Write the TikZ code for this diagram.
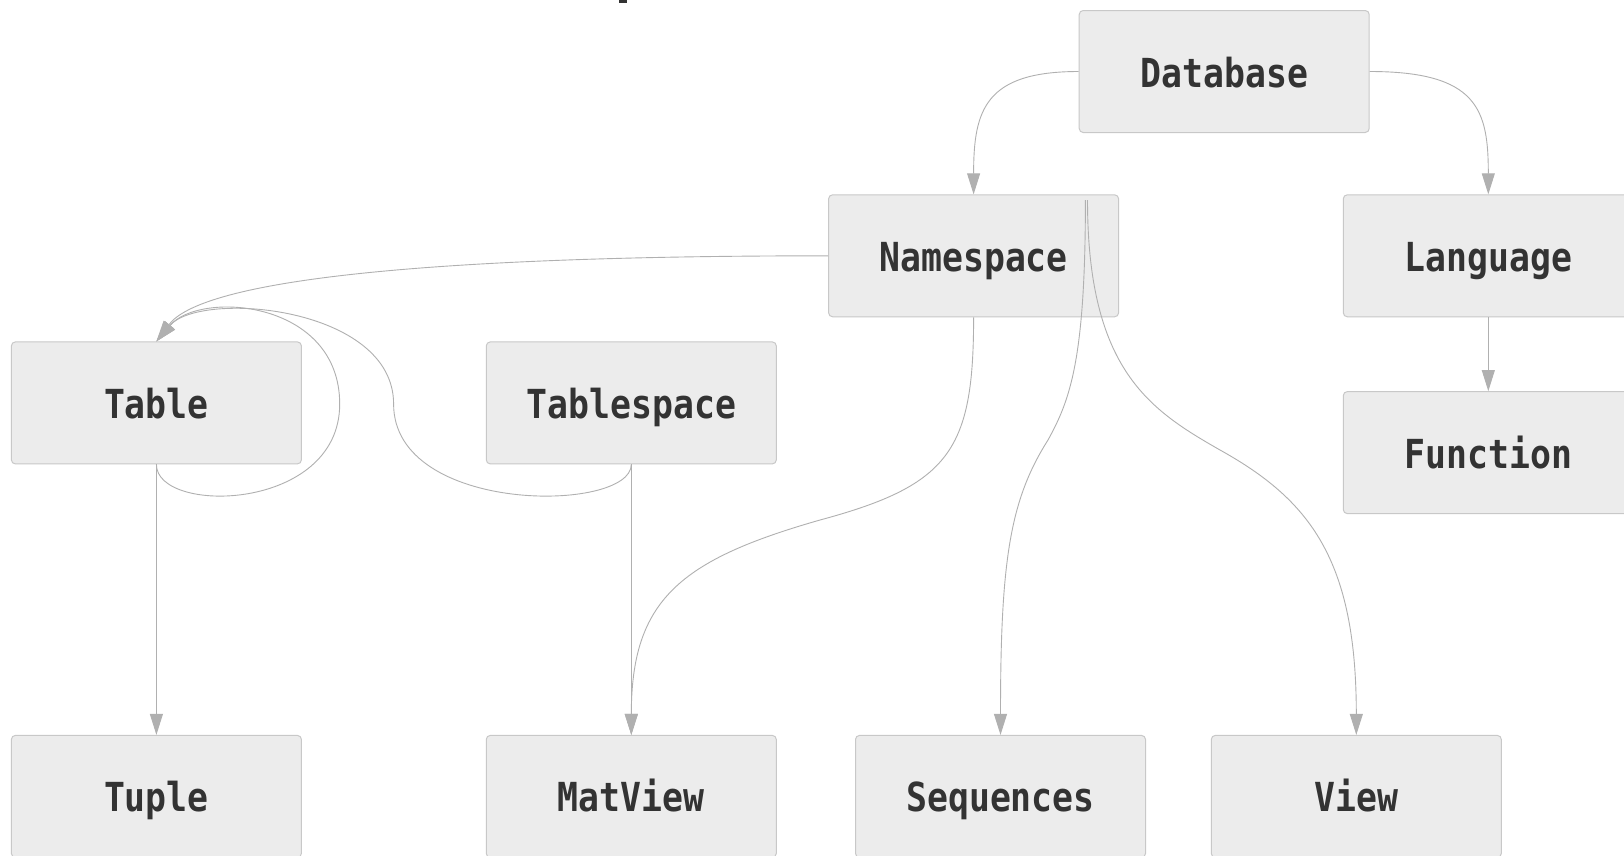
\documentclass[tikz,border=0pt]{standalone}
\usepackage{fontspec}
\usetikzlibrary{arrows.meta}
\newfontfamily\nodefont{DejaVu Sans Mono}[FakeStretch=0.87]
\definecolor{boxfill}{HTML}{ECECEC}
\definecolor{boxline}{HTML}{C8C8C8}
\definecolor{edgecol}{HTML}{B0B0B0}
\definecolor{txt}{HTML}{333333}
\tikzset{
  ent/.style={draw=boxline, fill=boxfill, line width=1pt, rounded corners=4pt,
    minimum width=290pt, minimum height=122pt, inner sep=0pt,
    text height=40pt, text depth=9pt,
    text=txt, font=\nodefont\fontsize{40}{48}\selectfont\bfseries},
  edge/.style={draw=edgecol, line width=0.9pt, -{Triangle[length=21pt,width=13pt]}},
  plain/.style={draw=edgecol, line width=0.9pt}
}
\begin{document}
\begin{tikzpicture}[x=1pt,y=-1pt]
\clip (0,0) rectangle (1624,855);
\fill[white] (0,0) rectangle (1624,855);
\fill[txt] (619,0) rectangle (627,3);
% nodes
\node[ent] (db) at (1224.2,71.5) {Database};
\node[ent] (ns) at (973.6,255.8) {Namespace};
\node[ent] (lang) at (1488.3,255.8) {Language};
\node[ent] (fn) at (1488.3,452.6) {Function};
\node[ent] (tbl) at (156.4,402.9) {Table};
\node[ent] (tsp) at (631.3,402.9) {Tablespace};
\node[ent] (tup) at (156.4,796.4) {Tuple};
\node[ent] (mv) at (631.3,796.4) {MatView};
\node[ent] (seq) at (1000.5,796.4) {Sequences};
\node[ent] (view) at (1356.3,796.4) {View};
\coordinate (nsA) at (1085.4,200);
\coordinate (nsB) at (1087.5,200);
% edges
\draw[edge] (db.west) .. controls (985,71.5) and (973.6,110) .. (ns.north);
\draw[edge] (db.east) .. controls (1478,71.5) and (1488.3,110) .. (lang.north);
\draw[edge] (lang.south) -- (fn.north);
\draw[edge] (ns.west) .. controls (400,255.8) and (200,283) .. (tbl.north);
\draw[edge] (tbl.south) .. controls (156.4,515) and (339.7,512) .. (339.7,404)
  .. controls (339.7,300) and (200,290) .. (tbl.north);
\draw[edge] (tsp.south) .. controls (631.3,513) and (393.6,515) .. (393.6,404)
  .. controls (393.6,306) and (200,290) .. (tbl.north);
\draw[edge] (tbl.south) -- (tup.north);
\draw[edge] (tsp.south) -- (mv.north);
\draw[edge] (ns.south) .. controls (973.6,450) and (950,485) .. (820,520)
  .. controls (680,560) and (631.3,600) .. (mv.north);
\draw[edge] (nsA) .. controls (1085.4,360) and (1070,400) .. (1048,440)
  .. controls (1010,500) and (1000.5,560) .. (seq.north);
\draw[edge] (nsB) .. controls (1087.5,370) and (1150,410) .. (1220,450)
  .. controls (1310,500) and (1356.3,560) .. (view.north);
\end{tikzpicture}
\end{document}
